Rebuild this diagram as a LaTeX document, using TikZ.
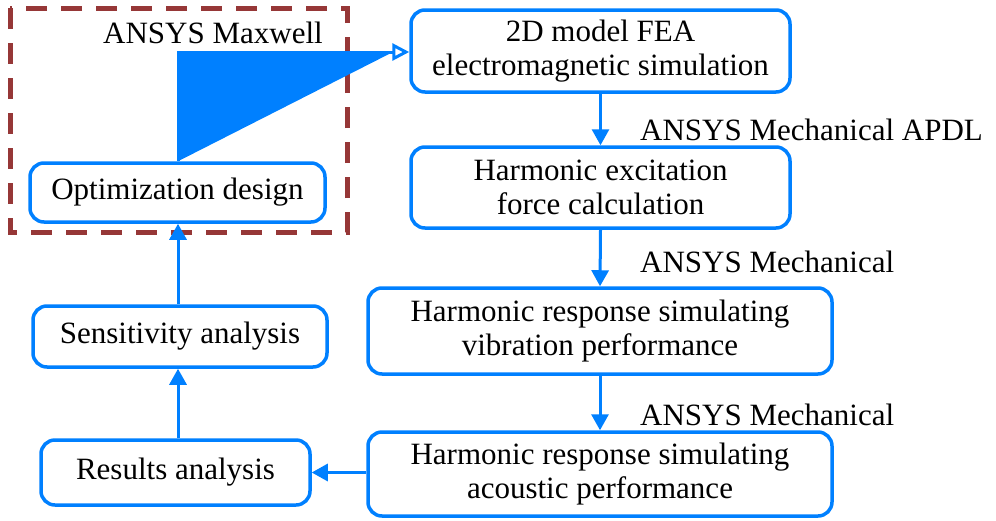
\documentclass[tikz,border=0pt]{standalone}
\usepackage{fontspec}
\setmainfont{Liberation Serif}
\usetikzlibrary{arrows.meta}
\definecolor{fblue}{RGB}{0,128,255}
\definecolor{dred}{RGB}{150,55,55}
\begin{document}
\begin{tikzpicture}[x=1pt,y=-1pt,
  box/.style={draw=fblue,line width=3.5pt,rounded corners=14pt,fill=white,align=center,
    font=\fontsize{31}{34}\selectfont,inner sep=0pt},
  conn/.style={draw=fblue,line width=3pt,-{Triangle[length=16pt,width=17pt]}},
  lab/.style={font=\fontsize{31}{34}\selectfont,inner sep=0pt}]
\useasboundingbox (0,0) rectangle (996,520);
\draw[dred,line width=5pt,dash pattern=on 21pt off 14pt] (10,8) rectangle (347,232);
\node[lab,anchor=east] (max) at (323,33) {ANSYS Maxwell};
\node[box,minimum width=295pt,minimum height=59pt] (opt) at (177.5,192.5) {Optimization design};
\node[box,minimum width=294pt,minimum height=61pt] (sen) at (180,336.5) {Sensitivity analysis};
\node[box,minimum width=269pt,minimum height=65pt] (res) at (175.5,472.5) {Results analysis};
\node[box,minimum width=379pt,minimum height=82pt] (fea) at (600.5,51) {2D model FEA\\electromagnetic simulation};
\node[box,minimum width=379pt,minimum height=81pt] (exc) at (600.5,187.5) {Harmonic excitation\\force calculation};
\node[box,minimum width=464pt,minimum height=86pt] (vib) at (600,331) {Harmonic response simulating\\vibration performance};
\node[box,minimum width=464pt,minimum height=84pt] (aco) at (600,474) {Harmonic response simulating\\acoustic performance};
\node[lab,anchor=west] (l1) at (640,130) {ANSYS Mechanical APDL};
\node[lab,anchor=west] (l2) at (640,262) {ANSYS Mechanical};
\node[lab,anchor=west] (l3) at (640,415) {ANSYS Mechanical};
\coordinate (corner) at (178,52);
\fill[fblue,draw=fblue,line width=3pt,-{Triangle[open,length=17pt,width=17pt]}] (opt.north -| corner) -- (corner) -- (fea.west |- corner);
\draw[conn] (fea.south) -- (exc.north);
\draw[conn] (exc.south) -- (vib.north);
\draw[conn] (vib.south) -- (aco.north);
\draw[conn] (aco.west |- res.east) -- (res.east);
\draw[conn] (res.north -| corner) -- (sen.south -| corner);
\draw[conn] (sen.north -| corner) -- (opt.south -| corner);
\end{tikzpicture}
\end{document}
